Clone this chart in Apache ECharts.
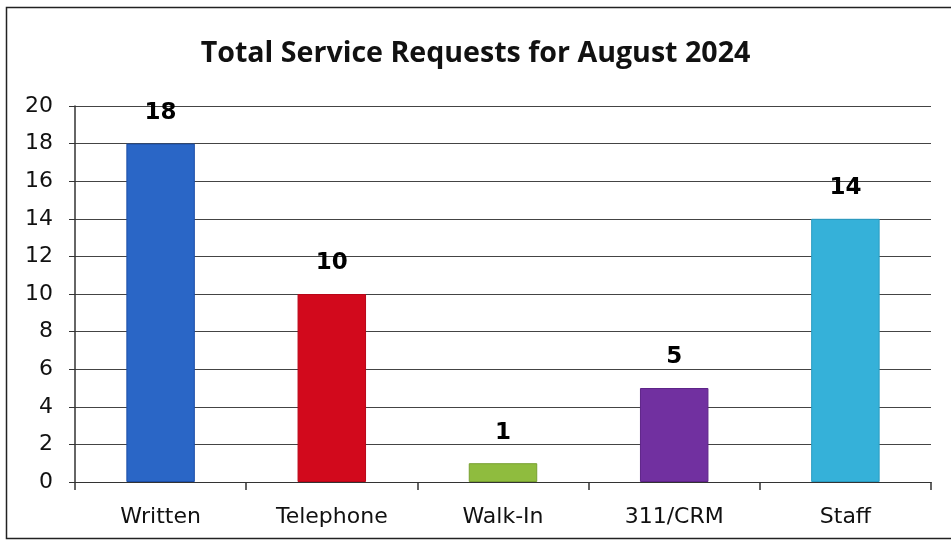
<!DOCTYPE html>
<html><head><meta charset="utf-8">
<script src="https://cdn.jsdelivr.net/npm/echarts@6/dist/echarts.min.js"></script>
<style>html,body{margin:0;padding:0;background:#fff}#c{width:951px;height:542px}</style>
</head><body><div id="c"></div>
<script>
const categories = ['Written', 'Telephone', 'Walk-In', '311/CRM', 'Staff'];
const values = [18, 10, 1, 5, 14];
const barColors = ['#2a66c6', '#d2091c', '#8fbc3e', '#7130a0', '#35b1d9'];
const borderColors = ['#1d4fa8', '#b80618', '#78a030', '#5e2488', '#2a9cc2'];
const yTicks = [0, 2, 4, 6, 8, 10, 12, 14, 16, 18, 20];

const chart = echarts.init(document.getElementById('c'));
chart.setOption({
  backgroundColor: '#fff',
  animation: false,
  title: {
    text: 'Total Service Requests for August 2024',
    left: 'center', top: 34,
    textStyle: { fontFamily: 'Open Sans', fontWeight: 'bold', fontSize: 28.6, color: '#111' }
  },
  graphic: [{
    type: 'rect', shape: { x: 6.5, y: 7.5, width: 950, height: 531 },
    style: { fill: 'none', stroke: '#222', lineWidth: 1.5 }, silent: true
  }],
  grid: { left: 75, right: 20, top: 106, bottom: 60 },
  xAxis: {
    type: 'category', data: categories,
    axisLine: { lineStyle: { color: '#333', width: 1.2 } },
    axisTick: { show: true, length: 8, lineStyle: { color: '#333', width: 1.5 } },
    axisLabel: { fontFamily: 'DejaVu Sans', fontSize: 22, color: '#111', margin: 24 }
  },
  yAxis: {
    type: 'value', min: 0, max: 20, interval: 2,
    axisLine: { show: true, lineStyle: { color: '#333', width: 1.5 } },
    axisTick: { show: true, length: 6, lineStyle: { color: '#333' } },
    axisLabel: { fontFamily: 'DejaVu Sans', fontSize: 22, color: '#111', margin: 22,
      formatter: v => yTicks.includes(v) ? String(v) : '' },
    splitLine: { lineStyle: { color: '#444', width: 1.2 } }
  },
  series: [{
    type: 'bar', barWidth: '40%',
    data: values.map((v, i) => ({ value: v, itemStyle: { color: barColors[i], borderColor: borderColors[i], borderWidth: 1 } })),
    label: { show: true, position: 'top', distance: 19, fontFamily: 'DejaVu Sans', fontWeight: 'bold', fontSize: 23, color: '#000' }
  }]
});
</script></body></html>
